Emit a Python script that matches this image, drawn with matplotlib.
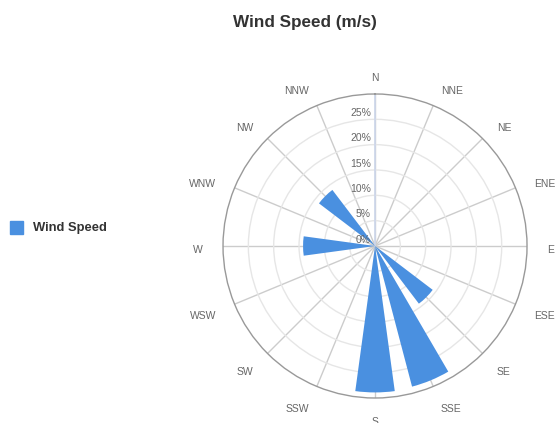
import numpy as np
import matplotlib
matplotlib.use('Agg')
import matplotlib.pyplot as plt
from matplotlib.patches import Rectangle

# Wind rose data (percent of time per direction)
directions = ['N', 'NNE', 'NE', 'ENE', 'E', 'ESE', 'SE', 'SSE',
              'S', 'SSW', 'SW', 'WSW', 'W', 'WNW', 'NW', 'NNW']
frequency = [0, 0, 0, 0, 0, 0, 14.3, 28.7,
             28.9, 0, 0, 0, 14.2, 0, 13.9, 0]
ring_ticks = [0, 5, 10, 15, 20, 25]
series_name = 'Wind Speed'

BAR_COLOR = '#4a90e0'
TEXT_COLOR = '#333333'
LABEL_COLOR = '#666666'

plt.rcParams['font.family'] = ['Liberation Sans', 'DejaVu Sans']

fig = plt.figure(figsize=(5.56, 4.23), dpi=100)
ax = fig.add_axes([0.4011, 0.0591, 0.5468, 0.7187], projection='polar')
ax.set_theta_zero_location('N')
ax.set_theta_direction(-1)
ax.set_ylim(0, 30)

theta = np.deg2rad(np.arange(len(directions)) * 22.5)
ax.bar(theta, frequency, width=np.deg2rad(15.5), color=BAR_COLOR,
       edgecolor='none', zorder=3)

# grid: spokes and rings
ax.set_xticks(theta)
ax.set_xticklabels([])
ax.set_yticks(ring_ticks[1:])
ax.set_yticklabels([])
ax.xaxis.grid(True, color='#cccccc', linewidth=1)
ax.yaxis.grid(True, color='#e6e6e6', linewidth=1)
ax.tick_params(length=0)
ax.spines['polar'].set_color('#999999')
ax.spines['polar'].set_linewidth(1)
ax.plot([0, 0], [0, 30], color='#ccd6eb', linewidth=1.2, zorder=2)

# direction labels: left side right-aligned, right side left-aligned
for t, name in zip(theta, directions):
    s = np.sin(t)
    if abs(s) < 0.01:
        ha = 'center'
    elif s > 0:
        ha = 'left'
    else:
        ha = 'right'
    ax.annotate(name, xy=(t, 34.0), xytext=(0, -3), textcoords='offset points',
                ha=ha, va='center', fontsize=7.5, color=LABEL_COLOR,
                annotation_clip=False)

# ring labels along the north axis
for r in ring_ticks:
    ax.annotate(f'{r}%', xy=(0, r), xytext=(-3, 4.5), textcoords='offset points',
                ha='right', va='center', fontsize=7.5, color=LABEL_COLOR,
                zorder=4)

fig.text(0.5486, 1 - 22 / 423, 'Wind Speed (m/s)', ha='center', va='center',
         fontsize=12.3, fontweight='bold', color=TEXT_COLOR)

# legend
fig.patches.append(Rectangle((10 / 556, 1 - 234 / 423), 13 / 556, 13 / 423,
                             transform=fig.transFigure, color=BAR_COLOR))
fig.text(33 / 556, 1 - 228 / 423, series_name, ha='left', va='center',
         fontsize=9.4, fontweight='bold', color=TEXT_COLOR)

plt.savefig('out.png', dpi=100)
plt.close()
